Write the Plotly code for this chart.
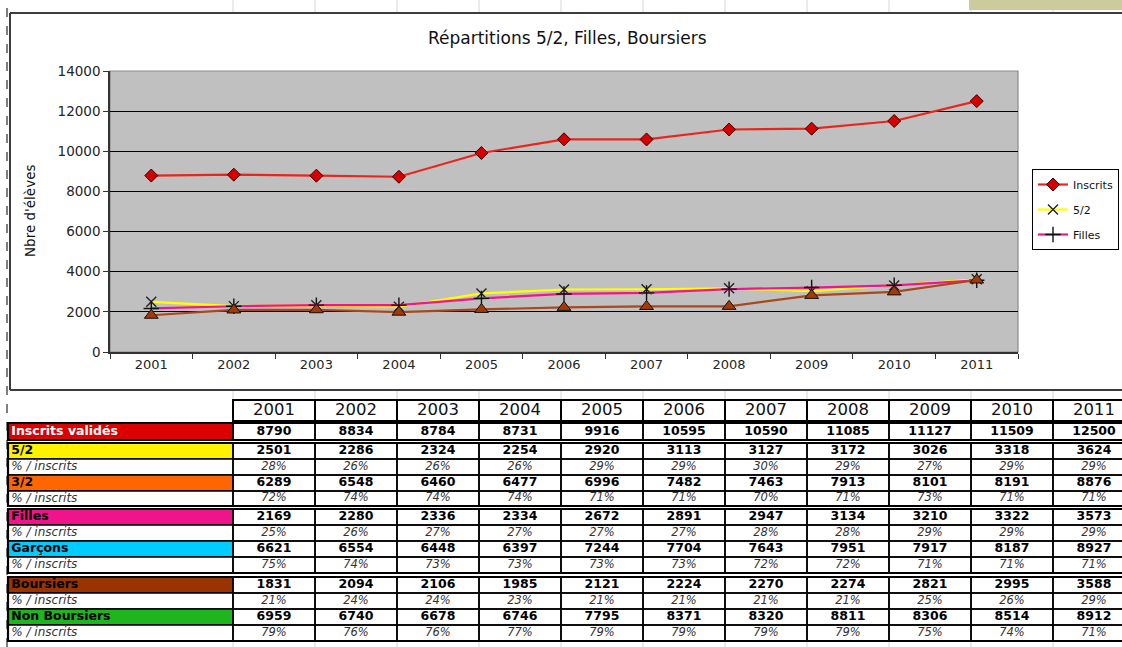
import plotly.graph_objects as go

# ---------------------------------------------------------------- data
years = ["2001", "2002", "2003", "2004", "2005", "2006",
         "2007", "2008", "2009", "2010", "2011"]

inscrits = [8790, 8834, 8784, 8731, 9916, 10595, 10590, 11085, 11127, 11509, 12500]
cinq_demi = [2501, 2286, 2324, 2254, 2920, 3113, 3127, 3172, 3026, 3318, 3624]
trois_demi = [6289, 6548, 6460, 6477, 6996, 7482, 7463, 7913, 8101, 8191, 8876]
filles = [2169, 2280, 2336, 2334, 2672, 2891, 2947, 3134, 3210, 3322, 3573]
garcons = [6621, 6554, 6448, 6397, 7244, 7704, 7643, 7951, 7917, 8187, 8927]
boursiers = [1831, 2094, 2106, 1985, 2121, 2224, 2270, 2274, 2821, 2995, 3588]
non_boursiers = [6959, 6740, 6678, 6746, 7795, 8371, 8320, 8811, 8306, 8514, 8912]

pct_cinq_demi = [28, 26, 26, 26, 29, 29, 30, 29, 27, 29, 29]
pct_trois_demi = [72, 74, 74, 74, 71, 71, 70, 71, 73, 71, 71]
pct_filles = [25, 26, 27, 27, 27, 27, 28, 28, 29, 29, 29]
pct_garcons = [75, 74, 73, 73, 73, 73, 72, 72, 71, 71, 71]
pct_boursiers = [21, 24, 24, 23, 21, 21, 21, 21, 25, 26, 29]
pct_non_boursiers = [79, 76, 76, 77, 79, 79, 79, 79, 75, 74, 71]

row_labels = ["Inscrits validés", "5/2", "3/2", "Filles", "Garçons",
              "Boursiers", "Non Boursiers"]
pct_label = "% / inscrits"

# ---------------------------------------------------------------- page geometry
W, H = 1122, 647


def px(x):
    return x / W


def py(y):
    return 1 - y / H


FONT = "DejaVu Sans"
fig = go.Figure()

# ---------------------------------------------------------------- line chart
fig.add_trace(go.Scatter(
    x=years, y=inscrits, name="Inscrits", mode="lines+markers", legendgroup="g1",
    line=dict(color="#e8261e", width=2.2),
    marker=dict(symbol="diamond", size=10, color="#d40000",
                line=dict(color="#3a0000", width=1)),
))
fig.add_trace(go.Scatter(
    x=years, y=cinq_demi, name="5/2", mode="lines+markers", legendgroup="g2",
    line=dict(color="#ffff00", width=2.2),
    marker=dict(symbol="x-thin", size=10, color="#222",
                line=dict(color="#222", width=1.4)),
))
fig.add_trace(go.Scatter(
    x=years, y=filles, name="Filles", mode="lines+markers", legendgroup="g3",
    line=dict(color="#f0168e", width=2.2),
    marker=dict(symbol="cross-thin", size=11, color="#111",
                line=dict(color="#111", width=1.4)),
))
fig.add_trace(go.Scatter(
    x=years, y=boursiers, name="Boursiers", mode="lines+markers", showlegend=False,
    line=dict(color="#a8481c", width=2.2),
    marker=dict(symbol="triangle-up", size=12, color="#a33a06",
                line=dict(color="#111", width=1)),
))

# ---------------------------------------------------------------- table (x2 / y2)
COL_W = 82.0
COL0 = 233.0          # left edge of the 2001 column
LABEL_LEFT = (8 - COL0) / COL_W

# vertical extent of each table line: (top, bottom)
HEADER_ROW = (400, 421)
groups = [
    [("count", 0, inscrits, None, (423, 440))],
    [("count", 1, cinq_demi, None, (443, 459)),
     ("pct", 1, None, pct_cinq_demi, (459, 475)),
     ("count", 2, trois_demi, None, (475, 491)),
     ("pct", 2, None, pct_trois_demi, (491, 506))],
    [("count", 3, filles, None, (509, 525)),
     ("pct", 3, None, pct_filles, (525, 541)),
     ("count", 4, garcons, None, (541, 557)),
     ("pct", 4, None, pct_garcons, (557, 573))],
    [("count", 5, boursiers, None, (577, 593)),
     ("pct", 5, None, pct_boursiers, (593, 609)),
     ("count", 6, non_boursiers, None, (609, 625)),
     ("pct", 6, None, pct_non_boursiers, (625, 641))],
]
label_fill = ["#dd0000", "#fff200", "#ff6600", "#f0148c", "#00ccff", "#993300", "#1fb51f"]
label_color = ["#ffffff", "#000", "#000", "#000", "#000", "#000", "#000"]

shapes = []

# faint spreadsheet gridlines around the chart frame and table
for i in range(12):
    xc = COL0 + i * COL_W
    for (a, b) in [(0, 13), (390, 400), (641, 647)]:
        shapes.append(dict(type="line", xref="paper", yref="paper",
                           x0=px(xc), x1=px(xc), y0=py(a), y1=py(b),
                           line=dict(color="#d6d6d6", width=1), layer="below"))
# top-right header block
shapes.append(dict(type="rect", xref="paper", yref="paper",
                   x0=px(969), x1=1, y0=py(0), y1=py(10),
                   fillcolor="#cbcb9c", line=dict(width=0), layer="below"))
# page-break dashes on the left
shapes.append(dict(type="line", xref="paper", yref="paper",
                   x0=px(7), x1=px(7), y0=0, y1=1,
                   line=dict(color="#555", width=1.5, dash="dash"), layer="below"))
# chart frame
for (x0, y0, x1, y1) in [(10, 13, 1122, 13), (10, 13, 10, 390), (10, 390, 1122, 390)]:
    shapes.append(dict(type="line", xref="paper", yref="paper",
                       x0=px(x0), x1=px(x1), y0=py(y0), y1=py(y1),
                       line=dict(color="#3c3c3c", width=2)))
# plot area background and grey border
shapes.append(dict(type="rect", xref="x domain", yref="y domain",
                   x0=0, x1=1, y0=0, y1=1, fillcolor="#c0c0c0",
                   line=dict(color="#8a8a8a", width=1.2), layer="below"))

# header cells
for i in range(len(years)):
    shapes.append(dict(type="rect", xref="x2", yref="y2",
                       x0=i, x1=i + 1, y0=HEADER_ROW[0], y1=HEADER_ROW[1],
                       line=dict(color="#000", width=2)))

count_x, count_y, count_t = [], [], []
pct_x, pct_y, pct_t = [], [], []
lab_x, lab_y, lab_t, lab_c = [], [], [], []
plab_x, plab_y = [], []

for grp in groups:
    for kind, idx, vals, pcts, (top, bot) in grp:
        mid = (top + bot) / 2
        fill = label_fill[idx] if kind == "count" else "#ffffff"
        shapes.append(dict(type="rect", xref="x2", yref="y2",
                           x0=LABEL_LEFT, x1=0, y0=top, y1=bot, fillcolor=fill,
                           line=dict(color="#000", width=1.5), layer="below"))
        for i in range(len(years)):
            shapes.append(dict(type="rect", xref="x2", yref="y2",
                               x0=i, x1=i + 1, y0=top, y1=bot,
                               line=dict(color="#000", width=1.5), layer="below"))
        if kind == "count":
            lab_x.append(LABEL_LEFT + 0.04)
            lab_y.append(mid)
            lab_t.append(row_labels[idx])
            lab_c.append(label_color[idx])
            for i, v in enumerate(vals):
                count_x.append(i + 0.5)
                count_y.append(mid)
                count_t.append(str(v))
        else:
            plab_x.append(LABEL_LEFT + 0.04)
            plab_y.append(mid)
            for i, p in enumerate(pcts):
                pct_x.append(i + 0.5)
                pct_y.append(mid)
                pct_t.append(f"{p}%")
    # thicker outline round each block of rows
    top = grp[0][4][0]
    bot = grp[-1][4][1]
    shapes.append(dict(type="rect", xref="x2", yref="y2",
                       x0=LABEL_LEFT, x1=len(years), y0=top, y1=bot,
                       line=dict(color="#000", width=2.2)))

text_common = dict(xaxis="x2", yaxis="y2", mode="text", showlegend=False,
                   hoverinfo="skip", cliponaxis=False)
fig.add_trace(go.Scatter(
    x=[i + 0.5 for i in range(len(years))],
    y=[sum(HEADER_ROW) / 2] * len(years), text=years,
    textfont=dict(family=FONT, size=16.5, color="#111"), **text_common))
fig.add_trace(go.Scatter(
    x=count_x, y=count_y, text=count_t,
    textfont=dict(family=FONT, size=12.5, color="#000", weight="bold"), **text_common))
fig.add_trace(go.Scatter(
    x=pct_x, y=pct_y, text=pct_t,
    textfont=dict(family=FONT, size=11.5, color="#333", style="italic"), **text_common))
fig.add_trace(go.Scatter(
    x=lab_x, y=lab_y, text=lab_t, textposition="middle right",
    textfont=dict(family=FONT, size=12.5, color=lab_c, weight="bold"), **text_common))
fig.add_trace(go.Scatter(
    x=plab_x, y=plab_y, text=[pct_label] * len(plab_x), textposition="middle right",
    textfont=dict(family=FONT, size=12, color="#333", style="italic"), **text_common))

# ---------------------------------------------------------------- layout
axis_font = dict(family=FONT, size=13.5, color="#262626")
fig.update_layout(
    width=W, height=H,
    margin=dict(l=0, r=0, t=0, b=0, autoexpand=False),
    paper_bgcolor="#ffffff",
    plot_bgcolor="rgba(0,0,0,0)",
    font=dict(family=FONT, color="#222"),
    showlegend=True,
    legend=dict(x=px(1032), y=py(169), xanchor="left", yanchor="top",
                bgcolor="#ffffff", bordercolor="#000", borderwidth=1,
                font=dict(family=FONT, size=11, color="#111"),
                tracegroupgap=6, itemwidth=30),
    xaxis=dict(domain=[px(110), px(1018)], type="category", range=[-0.5, 10.5],
               anchor="y", showline=True, linecolor="#333", linewidth=1.5,
               ticks="outside", tickson="boundaries", ticklen=5, tickcolor="#333",
               tickfont=dict(family=FONT, size=13, color="#262626"),
               showgrid=False, zeroline=False, fixedrange=True),
    yaxis=dict(domain=[py(352), py(71)], range=[0, 14000], dtick=2000,
               tickformat="d",
               anchor="x", showline=True, linecolor="#333", linewidth=1.5,
               ticks="outside", ticklen=5, tickcolor="#333", tickfont=axis_font,
               showgrid=True, gridcolor="#000", gridwidth=1, zeroline=False,
               fixedrange=True),
    xaxis2=dict(domain=[0, 1], range=[-COL0 / COL_W, (W - COL0) / COL_W],
                anchor="y2", visible=False, fixedrange=True),
    yaxis2=dict(domain=[0, 1], range=[H, 0], anchor="x2", visible=False,
                fixedrange=True),
    shapes=shapes,
    annotations=[
        dict(text="Répartitions 5/2, Filles, Boursiers", xref="paper", yref="paper",
             x=px(567), y=py(38), xanchor="center", yanchor="middle", showarrow=False,
             font=dict(family=FONT, size=17, color="#111")),
        dict(text="Nbre d'élèves", xref="paper", yref="paper",
             x=px(30), y=py(211), xanchor="center", yanchor="middle",
             textangle=-90, showarrow=False,
             font=dict(family=FONT, size=13.5, color="#111")),
    ],
)

fig.write_html("out.html")
